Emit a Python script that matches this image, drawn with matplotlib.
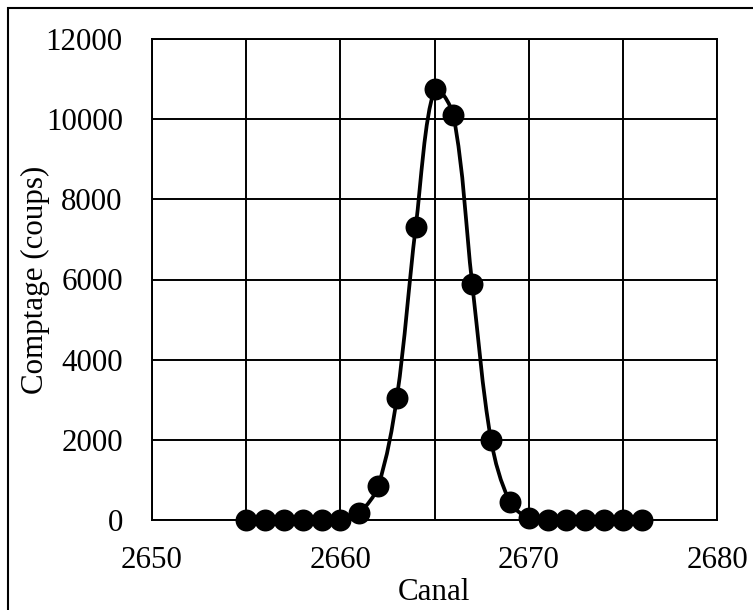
import numpy as np
import matplotlib
matplotlib.use("Agg")
import matplotlib.pyplot as plt
from matplotlib.path import Path
from matplotlib.patches import PathPatch, Rectangle
from matplotlib.ticker import MultipleLocator

# Gamma peak: counts per channel
canal = [2655, 2656, 2657, 2658, 2659, 2660, 2661, 2662, 2663, 2664, 2665,
         2666, 2667, 2668, 2669, 2670, 2671, 2672, 2673, 2674, 2675, 2676]
comptage = [0, 0, 0, 0, 0, 0, 180, 840, 3050, 7300, 10750,
            10100, 5900, 2000, 450, 50, 0, 0, 0, 0, 0, 0]

x_ticks = [2650, 2660, 2670, 2680]
y_ticks = [0, 2000, 4000, 6000, 8000, 10000, 12000]

plt.rcParams['font.family'] = ['Liberation Serif', 'DejaVu Serif']
FS = 22.3

fig = plt.figure(figsize=(7.53, 6.10), dpi=100)
ax_w_px, ax_h_px = 565, 481
ax = fig.add_axes([152 / 753, 90 / 610, ax_w_px / 753, ax_h_px / 610])

ax.set_xlim(2650, 2680)
ax.set_ylim(0, 12000)
ax.set_xticks(x_ticks)
ax.xaxis.set_minor_locator(MultipleLocator(5))
ax.set_yticks(y_ticks)
ax.grid(True, which='both', axis='x', color='black', linewidth=1.4)
ax.grid(True, which='major', axis='y', color='black', linewidth=1.4)
ax.set_axisbelow(True)
for sp in ax.spines.values():
    sp.set_color('black')
    sp.set_linewidth(1.4)
ax.tick_params(axis='both', which='both', length=0, labelsize=FS)
ax.tick_params(axis='y', pad=21.0)
ax.tick_params(axis='x', pad=19.0)

# Smoothed line through the points: cubic Bezier segments whose control arms
# follow the neighbouring chords, shortened on the side of the shorter chord.
xs = np.asarray(canal, dtype=float)
ys = np.asarray(comptage, dtype=float)
pts = np.column_stack([xs, ys])
scale = np.array([ax_w_px / 30.0, ax_h_px / 12000.0])
n = len(pts)


def seg_len(a, b):
    return float(np.hypot(*((b - a) * scale)))


def tangent(i):
    p0 = pts[i - 1] if i > 0 else pts[i]
    p2 = pts[i + 1] if i + 1 < n else pts[i]
    return p0, p2


verts = [tuple(pts[0])]
codes = [Path.MOVETO]
for i in range(n - 1):
    p1, p2 = pts[i], pts[i + 1]
    a0, a2 = tangent(i)
    b0, b2 = tangent(i + 1)
    d_out = seg_len(p1, p2)
    d_in1 = seg_len(a0, p1)
    d_in2 = seg_len(p2, b2)
    w1 = d_out / (d_in1 + d_out) if (d_in1 + d_out) > 0 else 0.5
    w2 = d_out / (d_in2 + d_out) if (d_in2 + d_out) > 0 else 0.5
    c1 = p1 + (a2 - a0) * w1 / 3.0
    c2 = p2 - (b2 - b0) * w2 / 3.0
    verts += [tuple(c1), tuple(c2), tuple(p2)]
    codes += [Path.CURVE4, Path.CURVE4, Path.CURVE4]
curve = PathPatch(Path(verts, codes), facecolor='none', edgecolor='black',
                  linewidth=2.7, zorder=3, clip_on=False)
ax.add_patch(curve)

ax.plot(canal, comptage, linestyle='none', marker='o', markersize=15.8,
        markeredgewidth=0, color='black', zorder=4, clip_on=False)

fig.text(35 / 753, 1 - 280 / 610, 'Comptage (coups)', rotation=90,
         ha='center', va='center', fontsize=FS)
fig.text(434 / 753, 1 - 593 / 610, 'Canal', ha='center', va='center',
         fontsize=FS)

# Chart area outline
fig.patches.append(Rectangle((8 / 753, -0.2), 1.2, 0.2 + 602 / 610,
                             transform=fig.transFigure, fill=False,
                             edgecolor='black', linewidth=1.5))

fig.savefig('out.png', dpi=100, facecolor='white')
